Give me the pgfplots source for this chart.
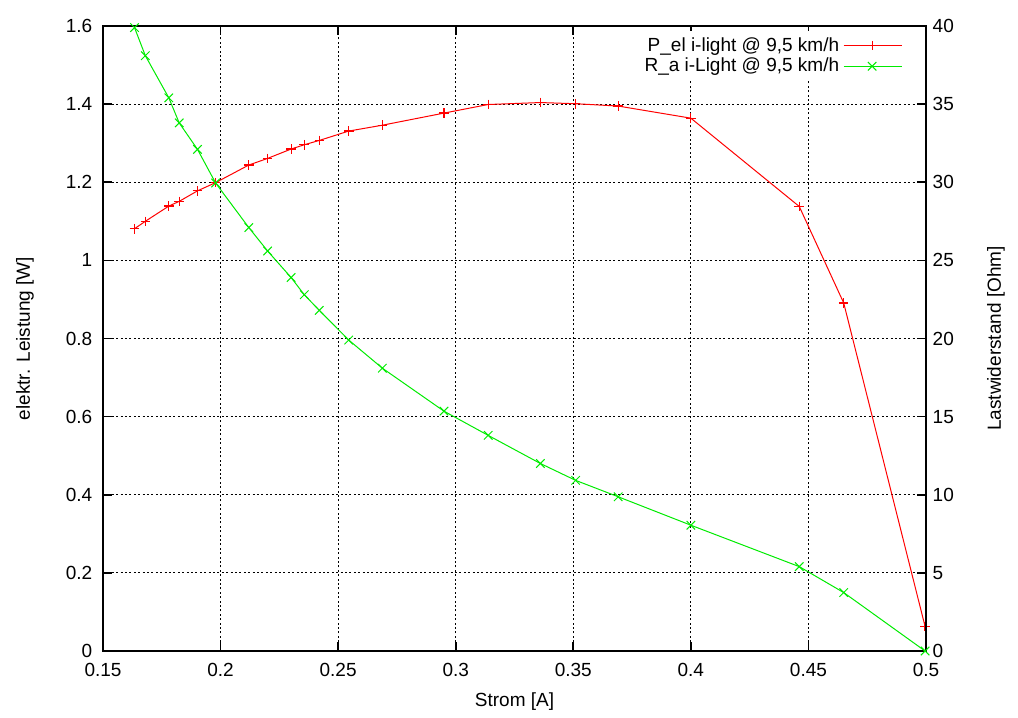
\documentclass[border=0pt]{standalone}
\usepackage{fontspec}
\setmainfont{Liberation Sans}
\usepackage{pgfplots}
\pgfplotsset{compat=1.18}
\definecolor{gpred}{RGB}{255,0,0}
\definecolor{gpgreen}{RGB}{0,235,0}
\begin{document}
\fontsize{9.5pt}{11pt}\selectfont
\begin{tikzpicture}
\pgfplotsset{
  every axis/.append style={
    scale only axis, width=411.5pt, height=312.5pt,
    xmin=0.15, xmax=0.5,
    font=\fontsize{9.5pt}{11pt}\selectfont,
    /pgf/number format/assume math mode=true,
    tick align=inside,
    major tick length=4.5pt,
    axis line style={line width=0.8pt},
    every tick/.style={black, line width=0.8pt},
  },
}
\begin{axis}[
  name=main,
  ymin=0, ymax=1.6,
  xtick={0.15,0.2,0.25,0.3,0.35,0.4,0.45,0.5},
  xticklabels={0.15,0.2,0.25,0.3,0.35,0.4,0.45,0.5},
  ytick={0,0.2,0.4,0.6,0.8,1,1.2,1.4,1.6},
  yticklabels={0,0.2,0.4,0.6,0.8,1,1.2,1.4,1.6},
  xticklabel style={yshift=-3pt},
  yticklabel style={xshift=-2pt},
  xtick pos=both, ytick pos=left,
  grid=major,
  major grid style={black, line width=0.5pt, dash pattern=on 1pt off 1.2pt},
  xlabel={Strom [A]},
  ylabel={elektr. Leistung [W]},
  xlabel style={at={(rel axis cs:0.5,0)}, anchor=center, yshift=-25.5pt},
  ylabel style={at={(rel axis cs:0,0.5)}, anchor=center, yshift=39pt},
  legend style={at={(rel axis cs:0.974,0.992)}, anchor=north east, draw=none, fill=white,
    font=\fontsize{9.5pt}{11pt}\selectfont, row sep=-2pt, inner sep=1pt},
  legend cell align=right,
  legend plot pos=right,
  legend image code/.code={\draw[mark repeat=2,mark phase=2] plot coordinates {(0.1cm,0cm)(0.6cm,0cm)(1.12cm,0cm)};},
]
\addplot[gpred, line width=0.5pt, mark=+, mark size=2.4pt, mark options={line width=0.6pt}] coordinates {
(0.1634,1.081) (0.168,1.100) (0.178,1.139) (0.1824,1.151) (0.1902,1.178) (0.1979,1.199)
(0.212,1.244) (0.220,1.261) (0.230,1.285) (0.2356,1.296) (0.242,1.307) (0.2545,1.331)
(0.2688,1.346) (0.295,1.377) (0.3138,1.399) (0.336,1.404) (0.351,1.401) (0.3691,1.395)
(0.400,1.364) (0.4461,1.138) (0.465,0.891) (0.4996,0.063)
};
\addlegendentry{P\_el i-light @ 9,5 km/h}
\addlegendimage{gpgreen, line width=0.5pt, mark=x, mark size=3pt}
\addlegendentry{R\_a i-Light @ 9,5 km/h}
\end{axis}
\begin{axis}[
  ymin=0, ymax=40,
  axis y line*=right, axis x line=none,
  ytick={0,5,10,15,20,25,30,35,40},
  yticklabels={0,5,10,15,20,25,30,35,40},
  ylabel={Lastwiderstand [Ohm]},
  ylabel style={at={(rel axis cs:1,0.5)}, anchor=center, rotate=0, yshift=-35pt},
]
\addplot[gpgreen, line width=0.5pt, mark=x, mark size=3pt] coordinates {
(0.1634,39.9) (0.168,38.1) (0.178,35.4) (0.1824,33.8) (0.1902,32.1) (0.1979,29.95)
(0.212,27.1) (0.220,25.6) (0.230,23.9) (0.2356,22.8) (0.242,21.8) (0.2545,19.9)
(0.2688,18.1) (0.295,15.35) (0.3138,13.8) (0.336,12.0) (0.351,10.92) (0.3691,9.87)
(0.400,8.05) (0.4461,5.40) (0.465,3.74) (0.4996,0.0)
};
\end{axis}
\path ([xshift=-51.5pt,yshift=-31pt]main.south west) rectangle ([xshift=46pt,yshift=13pt]main.north east);
\end{tikzpicture}
\end{document}
